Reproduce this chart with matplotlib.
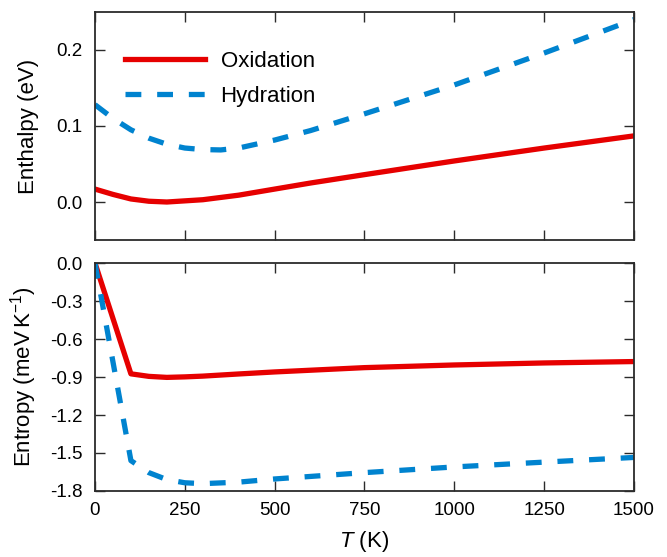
import matplotlib
matplotlib.use("Agg")
import matplotlib.pyplot as plt

plt.rcParams['font.family'] = ['Liberation Sans', 'DejaVu Sans']
plt.rcParams['mathtext.fontset'] = 'custom'
plt.rcParams['mathtext.rm'] = 'Liberation Sans'
plt.rcParams['mathtext.it'] = 'Liberation Sans:italic'
plt.rcParams['axes.unicode_minus'] = False

# Temperature grids (K)
T_enthalpy = [0, 50, 100, 150, 200, 250, 300, 350, 400, 500, 600, 750, 1000, 1250, 1500]
T_entropy = [0, 100, 150, 200, 250, 300, 400, 500, 750, 1000, 1250, 1500]

# Enthalpy (eV)
H_oxidation = [0.017, 0.010, 0.004, 0.001, 0.000, 0.0015, 0.003, 0.006, 0.009, 0.017,
               0.025, 0.036, 0.054, 0.071, 0.087]
H_hydration = [0.128, 0.110, 0.095, 0.084, 0.076, 0.071, 0.069, 0.0685, 0.071, 0.0815,
               0.094, 0.116, 0.154, 0.196, 0.240]

# Entropy (meV/K)
S_oxidation = [0.0, -0.875, -0.895, -0.903, -0.899, -0.893, -0.876, -0.860, -0.826,
               -0.805, -0.789, -0.778]
S_hydration = [0.0, -1.56, -1.655, -1.71, -1.735, -1.742, -1.73, -1.705, -1.655,
               -1.61, -1.572, -1.535]

series_labels = ["Oxidation", "Hydration"]
x_ticks = [0, 250, 500, 750, 1000, 1250, 1500]
h_ticks = [0.0, 0.1, 0.2]
s_ticks = [0.0, -0.3, -0.6, -0.9, -1.2, -1.5, -1.8]

RED = '#e60000'
BLUE = '#0083cf'
SPINE = '#2b2b2b'
LW = 3.8

fig = plt.figure(figsize=(6.67, 5.57), dpi=100)
ax1 = fig.add_axes([0.1424, 0.5691, 0.8081, 0.4094])
ax2 = fig.add_axes([0.1424, 0.1185, 0.8081, 0.4093])

ax1.plot(T_enthalpy, H_oxidation, color=RED, lw=LW, label=series_labels[0])
ax1.plot(T_enthalpy, H_hydration, color=BLUE, lw=LW, dashes=(3, 3), label=series_labels[1])
ax2.plot(T_entropy, S_oxidation, color=RED, lw=LW)
ax2.plot(T_entropy, S_hydration, color=BLUE, lw=LW, dashes=(3, 3))

ax1.set_xlim(0, 1500)
ax1.set_ylim(-0.05, 0.25)
ax1.set_yticks(h_ticks)
ax1.set_yticklabels([f"{v:.1f}" for v in h_ticks])
ax1.set_xticks(x_ticks)
ax1.set_xticklabels([])

ax2.set_xlim(0, 1500)
ax2.set_ylim(-1.8, 0.0)
ax2.set_yticks(s_ticks)
ax2.set_yticklabels([f"{v:.1f}" for v in s_ticks])
ax2.set_xticks(x_ticks)
ax2.set_xticklabels([str(v) for v in x_ticks])

for ax in (ax1, ax2):
    for sp in ax.spines.values():
        sp.set_color(SPINE)
        sp.set_linewidth(1.3)
    ax.tick_params(direction='in', length=7, width=1.0, color=SPINE,
                   top=True, right=True, labelsize=13.5, pad=9)
    ax.tick_params(axis='x', pad=8)

ax1.set_ylabel("Enthalpy (eV)", fontsize=16)
ax2.set_ylabel(r"Entropy (meV$\,$K$^{-1}$)", fontsize=16)
ax1.yaxis.set_label_coords(-0.104, 0.5)
ax2.yaxis.set_label_coords(-0.104, 0.5)
ax2.set_xlabel(r"$T$ (K)", fontsize=16, labelpad=7)

ax1.legend(loc='upper left', bbox_to_anchor=(0.0557, 0.83), frameon=False,
           fontsize=16, handlelength=3.6, handletextpad=0.7, labelspacing=0.65,
           borderaxespad=0, borderpad=0)

fig.savefig("out.png", dpi=100)
